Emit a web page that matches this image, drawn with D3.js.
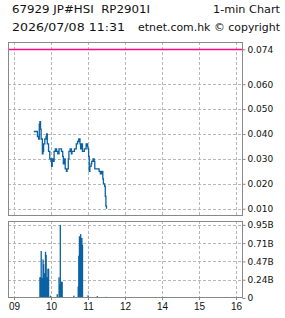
<!DOCTYPE html>
<html><head><meta charset="utf-8">
<script src="https://cdn.jsdelivr.net/npm/d3@7/dist/d3.min.js"></script>
<style>body{margin:0;background:#fff}svg{display:block}</style>
</head><body>
<script>
// minutes since 09:00 (lunch 12:00-13:00 removed)
const priceTimes = [32,38,40,41,42,43,44,46,47,48,50,52,53,54,56,58,60,61,62,63,65,67,69,71,73,75,77,79,80,82,83,85,86,88,89,91,93,94,96,98,100,101,103,105,107,108,110,111,112,114,116,117,119,120,121,122,123,125,126,128,130,131,134,137,138,140,141,142,144,145,147,148,149,150];
const priceValues = [0.041,0.039,0.038,0.044,0.045,0.042,0.038,0.032,0.033,0.036,0.038,0.039,0.040,0.036,0.033,0.030,0.029,0.027,0.030,0.029,0.033,0.034,0.033,0.032,0.034,0.034,0.033,0.031,0.028,0.030,0.026,0.025,0.026,0.030,0.033,0.034,0.032,0.033,0.033,0.034,0.034,0.036,0.037,0.038,0.036,0.034,0.036,0.033,0.033,0.034,0.034,0.036,0.035,0.034,0.031,0.025,0.027,0.028,0.029,0.030,0.029,0.026,0.026,0.026,0.025,0.024,0.024,0.025,0.022,0.020,0.019,0.015,0.011,0.010];
const volTimes = [42,43,44,45,46,47,48,49,50,51,52,53,54,55,56,57,59,70,72,73,74,75,76,77,78,97,99,104,105,106,107,108,109,110,111,120,135,149];
const volValues = [0.27,0.27,0.61,0.26,0.26,0.50,0.44,0.32,0.32,0.60,0.56,0.27,0.27,0.38,0.38,0.01,0.03,0.05,0.01,0.27,0.18,0.95,0.21,0.21,0.21,0.03,0.01,0.15,0.55,0.80,0.80,0.83,0.78,0.78,0.69,0.035,0.025,0.015];
const hourTicks = [0,60,120,180,240,300,360];
const hourLabels = ["09","10","11","12","14","15","16"];
const priceTicks = [0.010,0.020,0.030,0.040,0.050,0.060];
const prevClose = 0.074;
const volTicks = [0,0.2375,0.475,0.7125,0.95];
const volTickLabels = ["0","0.24B","0.47B","0.71B","0.95B"];
const header1Left = "67929 JP#HSI  RP2901I";
const header1Right = "1-min Chart";
const header2Left = "2026/07/08 11:31";
const header2Right = "etnet.com.hk \u00a9 copyright";

const W = 285, H = 318;
const L = 8, R = 243;
const topY0 = 42, topY1 = 216, botY0 = 221, botY1 = 298;
const blue = "#0b62a3", grid = "#b8b8b8", frame = "#888";

const svg = d3.select("body").append("svg").attr("width", W).attr("height", H)
  .style("font-family", "'DejaVu Sans', sans-serif");

const x = d3.scaleLinear().domain([-9.73, 371.3]).range([L, R]);
const yP = d3.scaleLinear().domain([0.00707, 0.07695]).range([topY1, topY0]);
const yV = d3.scaleLinear().domain([0, 1.0]).range([botY1, botY0]);

// header
function hdr(t, xx, y, len) {
  svg.append("text").attr("x", xx).attr("y", y).attr("font-size", 11)
    .attr("fill", "#111")
    .style("white-space", "pre").attr("textLength", len).attr("lengthAdjust", "spacingAndGlyphs").text(t);
}
hdr(header1Left, 12, 12.5, 138);
hdr(header1Right, 213, 12.5, 67);
hdr(header2Left, 12, 30.5, 113);
hdr(header2Right, 138, 30.5, 142);

function panel(y0, y1, yScale, ticks) {
  const g = svg.append("g");
  g.selectAll("line.v").data(hourTicks).join("line")
    .attr("x1", d => Math.round(x(d)) + 0.5).attr("x2", d => Math.round(x(d)) + 0.5)
    .attr("y1", y0).attr("y2", y1)
    .attr("stroke", grid).attr("stroke-dasharray", "3,2");
  g.selectAll("line.h").data(ticks.filter(t => t > 0)).join("line")
    .attr("x1", L).attr("x2", R)
    .attr("y1", d => Math.round(yScale(d)) + 0.5).attr("y2", d => Math.round(yScale(d)) + 0.5)
    .attr("stroke", grid).attr("stroke-dasharray", "3,2");
  return g;
}

// top panel
panel(topY0, topY1, yP, priceTicks);
svg.append("line").attr("x1", L + 1).attr("x2", R - 1)
  .attr("y1", Math.round(yP(prevClose)) + 0.5).attr("y2", Math.round(yP(prevClose)) + 0.5)
  .attr("stroke", "#ff0a80").attr("stroke-width", 1.4);
const pts = priceTimes.map((t, i) => [t, priceValues[i]]);
svg.append("path").datum(pts)
  .attr("d", d3.line().x(d => x(d[0])).y(d => yP(d[1])).curve(d3.curveStepAfter))
  .attr("fill", "none").attr("stroke", blue).attr("stroke-width", 1.3);
svg.append("rect").attr("x", L + 0.5).attr("y", topY0 + 0.5).attr("width", R - L - 1).attr("height", topY1 - topY0 - 1)
  .attr("fill", "none").attr("stroke", frame);
const axP = d3.axisRight(yP).tickValues(priceTicks.concat([prevClose])).tickSize(3).tickPadding(2)
  .tickFormat(d3.format(".3f"));
const gP = svg.append("g").attr("transform", `translate(${R - 0.5},0)`).call(axP);
gP.select(".domain").remove();
gP.selectAll("line").attr("stroke", frame);
gP.selectAll("text").attr("font-size", 9).attr("fill", "#111").style("font-family", "'DejaVu Sans', sans-serif");

// bottom panel
panel(botY0, botY1, yV, volTicks);
svg.append("g").selectAll("rect").data(volTimes.map((t, i) => [t, volValues[i]])).join("rect")
  .attr("x", d => x(d[0]) - 0.6).attr("width", 1.3)
  .attr("y", d => yV(d[1])).attr("height", d => yV(0) - yV(d[1]))
  .attr("fill", blue);
svg.append("rect").attr("x", L + 0.5).attr("y", botY0 + 0.5).attr("width", R - L - 1).attr("height", botY1 - botY0 - 1)
  .attr("fill", "none").attr("stroke", frame);
const axV = d3.axisRight(yV).tickValues(volTicks).tickSize(3).tickPadding(2)
  .tickFormat((d, i) => volTickLabels[i]);
const gV = svg.append("g").attr("transform", `translate(${R - 0.5},0)`).call(axV);
gV.select(".domain").remove();
gV.selectAll("line").attr("stroke", frame);
gV.selectAll("text").attr("font-size", 9).attr("fill", "#111").style("font-family", "'DejaVu Sans', sans-serif");

// x axis labels
const axX = d3.axisBottom(x).tickValues(hourTicks).tickSize(2).tickPadding(3)
  .tickFormat((d, i) => hourLabels[i]);
const gX = svg.append("g").attr("transform", `translate(0,${botY1})`).call(axX);
gX.select(".domain").remove();
gX.selectAll("line").attr("stroke", frame);
gX.selectAll("text").attr("font-size", 10).attr("fill", "#111").style("font-family", "'Liberation Sans', sans-serif");
</script>
</body></html>
